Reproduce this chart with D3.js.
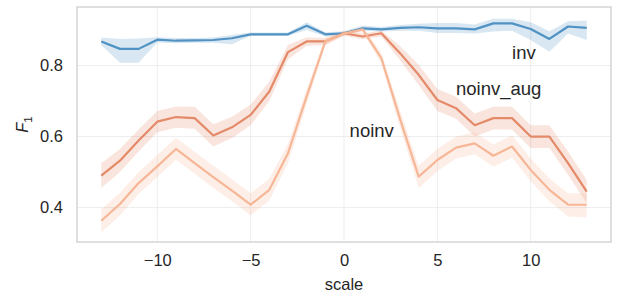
<html>
<head>
<meta charset="utf-8">
<script src="https://d3js.org/d3.v7.min.js"></script>
<style>
body { margin: 0; background: #fff; }
text { font-family: "Liberation Sans", Arial, sans-serif; fill: #262626; }
</style>
</head>
<body>
<svg width="617" height="298"></svg>
<script>
// scale values on the x axis
var scales = d3.range(-13, 14);

// mean F1 and band edges
var invMean = [0.868,0.847,0.847,0.873,0.870,0.871,0.872,0.877,0.888,0.888,0.888,0.912,0.888,0.891,0.905,0.902,0.906,0.908,0.905,0.905,0.902,0.919,0.919,0.903,0.875,0.910,0.906];
var invLow  = [0.858,0.808,0.808,0.865,0.863,0.864,0.864,0.860,0.884,0.884,0.884,0.900,0.882,0.886,0.898,0.896,0.898,0.898,0.892,0.892,0.890,0.896,0.898,0.872,0.839,0.890,0.872];
var invHigh = [0.879,0.875,0.876,0.880,0.878,0.878,0.879,0.886,0.893,0.893,0.893,0.922,0.894,0.897,0.913,0.909,0.914,0.918,0.920,0.920,0.916,0.932,0.932,0.922,0.897,0.925,0.927];

var augMean = [0.490,0.532,0.589,0.642,0.655,0.652,0.603,0.626,0.661,0.727,0.838,0.868,0.868,0.891,0.882,0.891,0.835,0.774,0.703,0.680,0.632,0.652,0.652,0.600,0.600,0.525,0.445];
var augLow  = [0.455,0.500,0.558,0.612,0.625,0.622,0.572,0.596,0.632,0.700,0.818,0.856,0.858,0.884,0.874,0.882,0.815,0.745,0.672,0.650,0.600,0.620,0.620,0.568,0.568,0.492,0.412];
var augHigh = [0.525,0.565,0.620,0.672,0.685,0.684,0.635,0.656,0.690,0.755,0.858,0.880,0.878,0.898,0.890,0.899,0.855,0.802,0.734,0.712,0.665,0.684,0.684,0.632,0.632,0.558,0.478];

var noinvMean = [0.363,0.410,0.469,0.516,0.565,0.525,0.486,0.448,0.408,0.450,0.553,0.713,0.868,0.890,0.902,0.821,0.650,0.487,0.534,0.569,0.581,0.546,0.572,0.506,0.450,0.408,0.408];
var noinvLow  = [0.330,0.378,0.438,0.486,0.535,0.495,0.455,0.418,0.378,0.420,0.525,0.690,0.858,0.884,0.894,0.805,0.625,0.455,0.502,0.538,0.550,0.515,0.540,0.474,0.418,0.375,0.372];
var noinvHigh = [0.395,0.442,0.500,0.548,0.597,0.557,0.518,0.480,0.440,0.482,0.580,0.735,0.878,0.897,0.908,0.836,0.675,0.518,0.566,0.600,0.612,0.578,0.604,0.538,0.482,0.440,0.440];

var seriesNames = ["inv", "noinv_aug", "noinv"];
var seriesColors = ["#4f92c3", "#e48a68", "#f7b696"];
var yTicks = [0.4, 0.6, 0.8];
var xTicks = [-10, -5, 0, 5, 10];

var series = [
  {name: "inv", mean: invMean, low: invLow, high: invHigh},
  {name: "noinv_aug", mean: augMean, low: augLow, high: augHigh},
  {name: "noinv", mean: noinvMean, low: noinvLow, high: noinvHigh}
];
// label anchors (data coordinates)
var labelPos = {inv: [9, 0.819], noinv_aug: [6, 0.716], noinv: [0.3, 0.6]};

var pl = 77, pr = 611, pt = 7, pb = 242;

var x = d3.scaleLinear().domain([-14.3, 14.3]).range([pl, pr]);
var y = d3.scaleLinear().domain([0.303, 0.965]).range([pb, pt]);

var svg = d3.select("svg");

// grid
svg.append("g").selectAll("line").data(xTicks).enter().append("line")
  .attr("x1", d => x(d)).attr("x2", d => x(d))
  .attr("y1", pt).attr("y2", pb)
  .attr("stroke", "#ededed").attr("stroke-width", 1);
svg.append("g").selectAll("line").data(yTicks).enter().append("line")
  .attr("x1", pl).attr("x2", pr)
  .attr("y1", d => y(d)).attr("y2", d => y(d))
  .attr("stroke", "#ededed").attr("stroke-width", 1);

var area = d3.area()
  .x((d, i) => x(scales[i]))
  .y0(d => y(d[0]))
  .y1(d => y(d[1]));
var line = d3.line()
  .x((d, i) => x(scales[i]))
  .y(d => y(d));

series.forEach(function (s, k) {
  var band = s.low.map((v, i) => [v, s.high[i]]);
  svg.append("path")
    .attr("d", area(band))
    .attr("fill", seriesColors[k])
    .attr("fill-opacity", 0.22);
});
series.forEach(function (s, k) {
  svg.append("path")
    .attr("d", line(s.mean))
    .attr("fill", "none")
    .attr("stroke", seriesColors[k])
    .attr("stroke-width", 2.2)
    .attr("stroke-linejoin", "round");
});

// annotations
seriesNames.forEach(function (n) {
  svg.append("text")
    .attr("x", x(labelPos[n][0]))
    .attr("y", y(labelPos[n][1]))
    .attr("font-size", 18.5)
    .text(n);
});

// frame
svg.append("rect")
  .attr("x", pl).attr("y", pt)
  .attr("width", pr - pl).attr("height", pb - pt)
  .attr("fill", "none").attr("stroke", "#cccccc").attr("stroke-width", 1.25);

// axes
var xAxis = svg.append("g")
  .attr("transform", "translate(0," + pb + ")")
  .call(d3.axisBottom(x).tickValues(xTicks).tickSize(0).tickPadding(12)
    .tickFormat(d => d < 0 ? "\u2212" + Math.abs(d) : d));
var yAxis = svg.append("g")
  .attr("transform", "translate(" + pl + ",0)")
  .call(d3.axisLeft(y).tickValues(yTicks).tickSize(0).tickPadding(14)
    .tickFormat(d3.format(".1f")));
[xAxis, yAxis].forEach(function (a) {
  a.select(".domain").remove();
  a.selectAll("text")
    .attr("font-size", 16.5)
    .attr("font-family", "Liberation Sans, Arial, sans-serif")
    .attr("fill", "#262626");
});

svg.append("text")
  .attr("x", (pl + pr) / 2)
  .attr("y", 290)
  .attr("text-anchor", "middle")
  .attr("font-size", 16.5)
  .text("scale");

var yl = svg.append("text")
  .attr("transform", "translate(28," + ((pt + pb) / 2) + ") rotate(-90)")
  .attr("text-anchor", "middle")
  .attr("font-size", 16.5)
  .attr("font-style", "italic");
yl.append("tspan").text("F");
yl.append("tspan").attr("font-size", 11.5).attr("font-style", "normal").attr("dy", 4).text("1");
</script>
</body>
</html>
